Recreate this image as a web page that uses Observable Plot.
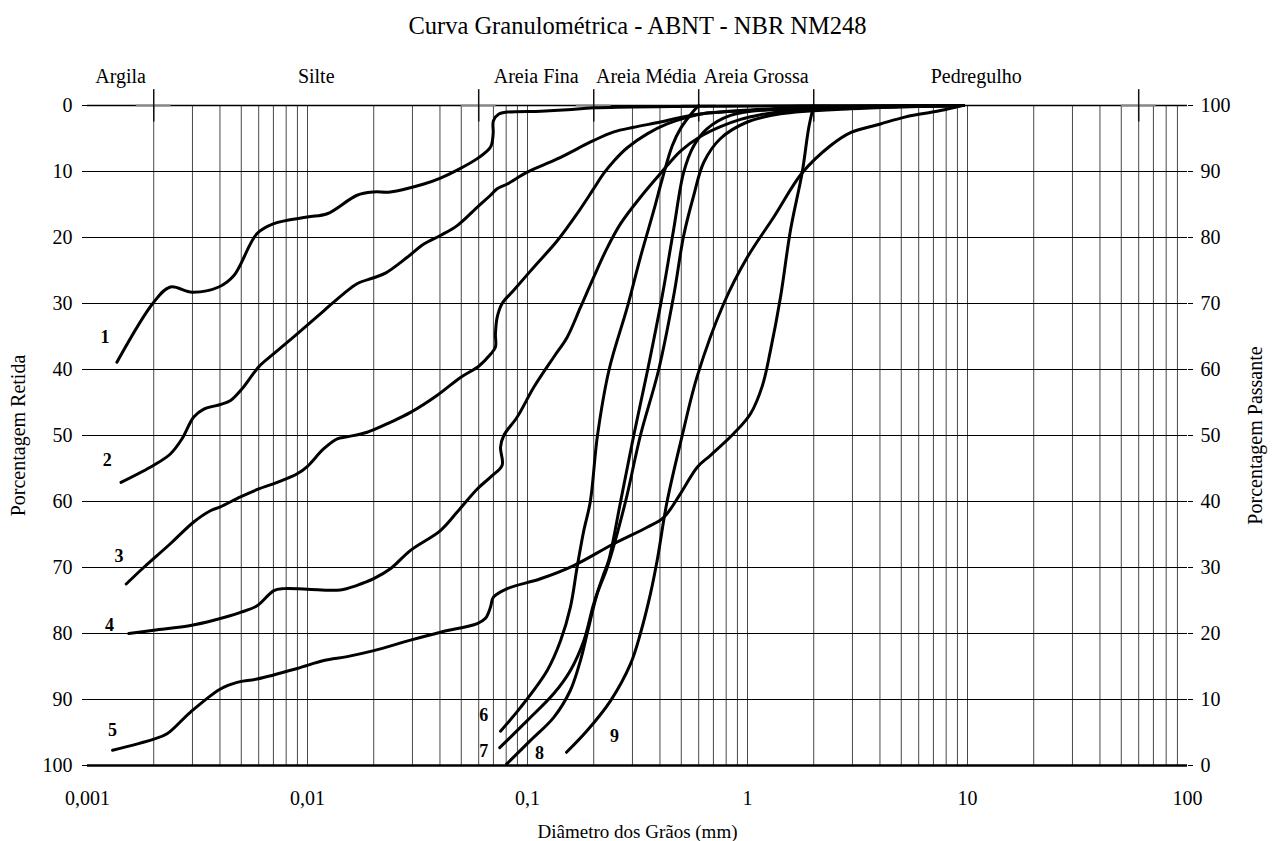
<!DOCTYPE html>
<html>
<head>
<meta charset="utf-8">
<script src="https://cdn.jsdelivr.net/npm/d3@7"></script>
<script src="https://cdn.jsdelivr.net/npm/@observablehq/plot@0.6"></script>
<style>
  body { margin: 0; background: #fff; }
  #chart svg { display: block; }
</style>
</head>
<body>
<div id="chart"></div>
<script>
// ---- Data (diameter in mm, percentage retained) ----
const curve1 = [[0.00136,38.9],[0.002,29.8],[0.00238,27.5],[0.00299,28.3],[0.00395,27.5],[0.00462,25.8],[0.0059,19.4],[0.00703,17.9],[0.00997,16.9],[0.0123,16.4],[0.0168,13.6],[0.02,13.1],[0.0238,13.1],[0.0338,11.9],[0.0402,11.0],[0.0479,9.8],[0.06,7.9],[0.0679,6.3],[0.0698,4.3],[0.07,2.3],[0.0741,1.3],[0.0809,1.0],[0.115,0.86],[0.152,0.65],[0.2,0.35],[0.46,0.15],[9.6,0]];
const curve2 = [[0.00142,57.1],[0.002,54.5],[0.00238,52.8],[0.00269,50.5],[0.00304,47.2],[0.00338,46.0],[0.00402,45.3],[0.00447,44.7],[0.00505,42.9],[0.006,39.6],[0.00703,37.6],[0.00898,34.6],[0.01186,31.1],[0.01462,28.5],[0.0168,27.0],[0.02,26.1],[0.0226,25.4],[0.0284,23.0],[0.0338,21.0],[0.0402,19.7],[0.0479,18.2],[0.06,15.2],[0.0679,13.6],[0.0728,12.6],[0.0809,11.9],[0.0997,10.1],[0.1365,8.1],[0.2,5.3],[0.247,4.0],[0.304,3.3],[0.402,2.5],[0.496,1.8],[0.656,1.15],[0.93,0.76],[1.31,0.5],[1.87,0.26],[9.6,0]];
const curve3 = [[0.0015,72.5],[0.0018,70.0],[0.00238,66.4],[0.00304,63.1],[0.00362,61.4],[0.00402,60.8],[0.00496,59.3],[0.006,58.1],[0.00728,57.1],[0.00898,55.8],[0.00997,54.7],[0.01186,52.0],[0.01365,50.5],[0.01515,50.2],[0.01868,49.5],[0.0238,48.0],[0.0294,46.5],[0.0389,43.9],[0.0496,41.2],[0.06,39.5],[0.0679,37.7],[0.0715,36.6],[0.0715,34.6],[0.0728,32.1],[0.0767,30.0],[0.0866,28.0],[0.1068,24.5],[0.1365,20.5],[0.168,16.4],[0.2,12.6],[0.222,10.3],[0.247,8.4],[0.284,6.4],[0.35,4.3],[0.431,2.8],[0.532,1.8],[0.656,1.15],[1.146,0.7],[2.94,0.3],[9.6,0]];
const curve4 = [[0.00154,80.0],[0.002,79.5],[0.00294,78.8],[0.00375,78.0],[0.00496,76.8],[0.0059,75.8],[0.00703,73.5],[0.0078,73.2],[0.00997,73.3],[0.0141,73.4],[0.0168,72.7],[0.02,71.7],[0.0238,70.2],[0.0294,67.4],[0.0402,64.4],[0.0479,61.6],[0.0591,58.1],[0.0679,56.3],[0.0767,54.5],[0.0754,51.8],[0.078,50.0],[0.0898,47.2],[0.1068,42.7],[0.1317,38.1],[0.1515,35.1],[0.174,30.6],[0.2,26.0],[0.23,21.6],[0.265,17.9],[0.326,13.9],[0.402,10.3],[0.496,6.9],[0.611,4.7],[0.754,3.2],[0.93,2.1],[1.146,1.4],[1.515,0.8],[2.0,0.5],[4.0,0.2],[9.6,0]];
const curve5 = [[0.0013,97.7],[0.002,96.0],[0.0023,95.2],[0.00294,91.9],[0.00402,88.4],[0.00479,87.4],[0.0059,86.9],[0.00898,85.3],[0.01186,84.1],[0.01515,83.5],[0.02,82.6],[0.0294,81.0],[0.0402,79.8],[0.0591,78.5],[0.0644,77.7],[0.0679,76.0],[0.07,74.5],[0.0809,73.2],[0.1146,71.7],[0.1623,69.7],[0.2467,66.4],[0.35,63.9],[0.4163,62.4],[0.496,58.8],[0.591,54.8],[0.679,53.0],[0.866,49.7],[1.032,46.7],[1.17,42.4],[1.272,37.1],[1.413,29.0],[1.568,18.9],[1.773,10.1],[1.9,3.3],[2.0,0]];
const curve6 = [[0.0754,94.8],[0.093,91.2],[0.1229,85.6],[0.1413,81.1],[0.1567,76.0],[0.168,70.0],[0.18,64.5],[0.193,60.0],[0.208,50.0],[0.235,40.0],[0.284,30.6],[0.326,23.0],[0.375,15.9],[0.41,11.1],[0.455,6.1],[0.496,3.5],[0.57,0.8],[0.6,0]];
const curve7 = [[0.0748,97.3],[0.0997,93.2],[0.1317,89.1],[0.1567,85.6],[0.1803,81.1],[0.2,75.5],[0.222,71.0],[0.234,68.9],[0.265,60.0],[0.304,50.0],[0.352,40.0],[0.41,28.8],[0.462,18.7],[0.513,10.1],[0.57,6.1],[0.656,3.5],[0.837,1.5],[1.272,0.6],[2.94,0.3],[9.6,0]];
const curve8 = [[0.0803,99.8],[0.1032,96.2],[0.1317,92.7],[0.1567,88.6],[0.174,84.1],[0.1868,80.0],[0.2074,74.0],[0.2303,70.0],[0.279,60.0],[0.326,50.0],[0.395,40.0],[0.462,28.8],[0.513,19.7],[0.57,13.6],[0.633,8.6],[0.754,5.0],[0.998,2.5],[1.413,1.26],[2.94,0.5],[9.6,0]];
const curve9 = [[0.1504,98.0],[0.1868,94.7],[0.2384,90.2],[0.294,84.6],[0.326,80.0],[0.362,74.0],[0.3886,68.9],[0.431,60.0],[0.505,50.0],[0.591,41.0],[0.78,30.0],[0.998,23.0],[1.317,16.9],[1.773,10.2],[2.38,6.1],[2.94,4.1],[4.02,2.8],[5.13,1.8],[6.11,1.3],[7.54,0.76],[9.46,0]];

const curveIds = ["1","2","3","4","5","6","7","8","9"];
const labelX = [0.0012, 0.00123, 0.00139, 0.00126, 0.0013, 0.0633, 0.0633, 0.1134, 0.2486];
const labelY = [35.1, 53.8, 68.3, 78.8, 94.7, 92.4, 97.8, 98.1, 95.6];

const classNames = ["Argila", "Silte", "Areia Fina", "Areia Média", "Areia Grossa", "Pedregulho"];
const classLimits = [0.001, 0.002, 0.06, 0.2, 0.6, 2, 60];
const crossLimits = [0.002, 0.06, 0.2, 0.6, 2, 60];

const xTicks = [0.001, 0.01, 0.1, 1, 10, 100];
const yTicks = [0, 10, 20, 30, 40, 50, 60, 70, 80, 90, 100];
const gridDecades = [0.001, 0.01, 0.1, 1, 10];
const gridMultipliers = [1, 2, 3, 4, 5, 6, 7, 8, 9];

const title = "Curva Granulométrica - ABNT - NBR NM248";
const xLabel = "Diâmetro dos Grãos (mm)";
const yLabelLeft = "Porcentagem Retida";
const yLabelRight = "Porcentagem Passante";

// ---- Build tables ----
const curves = [curve1, curve2, curve3, curve4, curve5, curve6, curve7, curve8, curve9];
const lineData = curves.flatMap((pts, i) => pts.map(([d, p]) => ({id: curveIds[i], d, p})));
const gridX = gridDecades.flatMap(dec => gridMultipliers.map(m => +(m * dec).toPrecision(3))).filter(v => v > 0.001);
const classData = classNames.map((name, i) => ({name, mid: Math.sqrt(classLimits[i] * classLimits[i + 1])}));
const labelData = curveIds.map((id, i) => ({id, x: labelX[i], y: labelY[i]}));
const font = "'Liberation Serif', 'Times New Roman', serif";

const chart = Plot.plot({
  width: 1274,
  height: 841,
  marginLeft: 87,
  marginRight: 87,
  marginTop: 105,
  marginBottom: 76,
  style: {fontFamily: font, fontSize: "20px", color: "#000", background: "#fff"},
  x: {type: "log", domain: [0.001, 100]},
  y: {domain: [0, 100], reverse: true},
  marks: [
    Plot.ruleX(gridX, {stroke: "#333", strokeWidth: 0.9}),
    Plot.ruleY(yTicks, {stroke: "#000", strokeWidth: 1}),
    Plot.ruleY([100], {stroke: "#000", strokeWidth: 2.5}),
    Plot.ruleY([0], {stroke: "#000", strokeWidth: 1.5}),
    Plot.ruleY(crossLimits, {y: () => 0, x1: d => d / 1.2, x2: d => d * 1.2, stroke: "#888", strokeWidth: 2}),
    Plot.ruleX(crossLimits, {y1: -2.4, y2: 2.5, stroke: "#111", strokeWidth: 1.5}),
    Plot.axisX({ticks: xTicks, tickSize: 0, tickPadding: 25, tickFormat: d => String(d).replace(".", ","), label: null, fontSize: 20}),
    Plot.axisY({ticks: yTicks, anchor: "left", tickSize: 5, tickPadding: 10, label: null, fontSize: 20}),
    Plot.axisY({ticks: yTicks, anchor: "right", tickSize: 5, tickPadding: 8, tickFormat: d => 100 - d, label: null, fontSize: 20}),
    Plot.line(lineData, {x: "d", y: "p", z: "id", curve: "catmull-rom", stroke: "#000", strokeWidth: 3}),
    Plot.text(labelData, {x: "x", y: "y", text: "id", fontWeight: "bold", fontSize: 18, fill: "#000"}),
    Plot.text(classData, {x: "mid", text: "name", frameAnchor: "top", lineAnchor: "middle", dy: -29, fontSize: 20, fill: "#000"}),
    Plot.text([title], {frameAnchor: "top", lineAnchor: "middle", dy: -79, fontSize: 24.5, fill: "#000"}),
    Plot.text([xLabel], {frameAnchor: "bottom", lineAnchor: "middle", dy: 66, fontSize: 19, fill: "#000"}),
    Plot.text([yLabelLeft], {frameAnchor: "left", textAnchor: "middle", lineAnchor: "middle", dx: -69, rotate: -90, fontSize: 20, fill: "#000"}),
    Plot.text([yLabelRight], {frameAnchor: "right", textAnchor: "middle", lineAnchor: "middle", dx: 68, rotate: -90, fontSize: 20, fill: "#000"})
  ]
});
document.getElementById("chart").appendChild(chart);
</script>
</body>
</html>
